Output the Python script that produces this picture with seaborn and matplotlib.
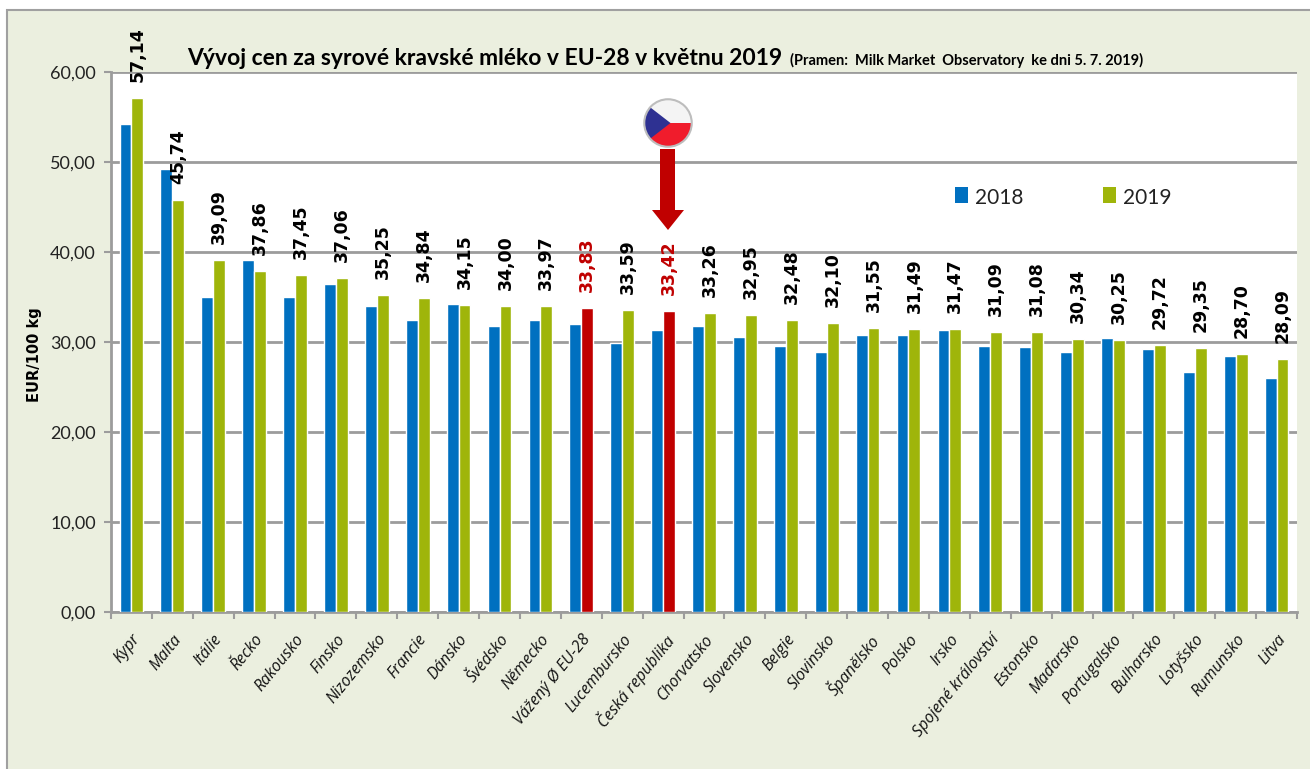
import matplotlib
matplotlib.use('Agg')
import matplotlib.pyplot as plt
from matplotlib.patches import Rectangle, Circle, Polygon
import pandas as pd
import seaborn as sns

# ── data ─────────────────────────────────────────────
countries = ['Kypr', 'Malta', 'Itálie', 'Řecko', 'Rakousko', 'Finsko', 'Nizozemsko',
             'Francie', 'Dánsko', 'Švédsko', 'Německo', 'Vážený Ø EU-28', 'Lucembursko',
             'Česká republika', 'Chorvatsko', 'Slovensko', 'Belgie', 'Slovinsko',
             'Španělsko', 'Polsko', 'Irsko', 'Spojené království', 'Estonsko',
             'Maďarsko', 'Portugalsko', 'Bulharsko', 'Lotyšsko', 'Rumunsko', 'Litva']
vals_2018 = [54.2, 49.2, 35.0, 39.1, 35.0, 36.4, 34.0, 32.5, 34.2, 31.8, 32.5, 32.0, 29.9,
             31.3, 31.8, 30.6, 29.6, 28.9, 30.8, 30.8, 31.3, 29.6, 29.4, 28.9, 30.4, 29.2,
             26.7, 28.4, 26.0]
vals_2019 = [57.14, 45.74, 39.09, 37.86, 37.45, 37.06, 35.25, 34.84, 34.15, 34.00, 33.97,
             33.83, 33.59, 33.42, 33.26, 32.95, 32.48, 32.10, 31.55, 31.49, 31.47, 31.09,
             31.08, 30.34, 30.25, 29.72, 29.35, 28.70, 28.09]
highlight = ['Vážený Ø EU-28', 'Česká republika']
y_ticks = [0, 10, 20, 30, 40, 50, 60]

BLUE = '#0070C0'
GREEN = '#9FB50A'
RED = '#C00000'
GRID = '#9C9C9C'
PANEL = '#EBEFDF'
NARROW = 'Lato'

W, H = 1310, 769

sns.set_theme(style='white')
fig = plt.figure(figsize=(W / 100, H / 100), dpi=100, facecolor='white')


def fx(x):
    return x / W


def fy(y):
    return 1 - y / H


# panel behind the chart
fig.add_artist(Rectangle((fx(7), -0.01), fx(1340), fy(10) + 0.01, transform=fig.transFigure,
                         facecolor=PANEL, edgecolor='#A0A0A0', linewidth=1.5, zorder=-1))

ax = fig.add_axes([fx(111), fy(612), fx(1297 - 111), fy(72) - fy(612)])

df = pd.DataFrame({
    'country': countries * 2,
    'year': ['2018'] * len(countries) + ['2019'] * len(countries),
    'value': vals_2018 + vals_2019,
})
sns.barplot(data=df, x='country', y='value', hue='year', order=countries,
            palette={'2018': BLUE, '2019': GREEN}, width=0.58, gap=0, saturation=1,
            ax=ax, zorder=3, legend=False)

# red bars and value labels
for bar, name, val in zip(ax.containers[1], countries, vals_2019):
    hot = name in highlight
    if hot:
        bar.set_facecolor(RED)
    ax.annotate(f'{val:.2f}'.replace('.', ','),
                (bar.get_x() + bar.get_width() / 2, val),
                xytext=(0, 11.5), textcoords='offset points', rotation=90,
                ha='center', va='bottom', fontsize=12.5, fontweight='bold',
                family='DejaVu Sans', color=RED if hot else 'black',
                annotation_clip=False, zorder=6)

ax.set_xlim(-0.5, len(countries) - 0.5)
ax.set_ylim(0, 60)
ax.set_xlabel('')
ax.set_ylabel('')
ax.set_facecolor('white')

ax.set_yticks(y_ticks)
ax.set_yticklabels([f'{v},00' for v in y_ticks], family=NARROW, fontsize=13, color='#222222')
ax.yaxis.grid(True, color=GRID, linewidth=2)
ax.set_axisbelow(True)
ax.tick_params(axis='y', length=5, width=1.5, color=GRID, pad=6, left=True)

# ticks sit between categories, labels at the centres
ax.set_xticks(range(len(countries)))
ax.set_xticklabels(countries, rotation=51, ha='right', rotation_mode='anchor',
                   family='Open Sans', style='italic', fontsize=11.5, color='#111111')
ax.set_xticks([i - 0.5 for i in range(len(countries) + 1)], minor=True)
ax.tick_params(axis='x', which='major', length=0, pad=14)
ax.tick_params(axis='x', which='minor', length=5, width=1.5, color=GRID, bottom=True)

sns.despine(ax=ax, top=True, right=True)
for side in ['left', 'bottom']:
    ax.spines[side].set_color(GRID)
    ax.spines[side].set_linewidth(2)

fig.text(fx(35), fy(355), 'EUR/100 kg', rotation=90, ha='center', va='center',
         fontsize=10.5, fontweight='bold', family='DejaVu Sans', color='black')

# title
fig.text(fx(187), fy(65), 'Vývoj cen za syrové kravské mléko v EU-28 v květnu 2019',
         fontsize=16.5, fontweight='bold', family=NARROW, color='black', va='baseline')
fig.text(fx(790), fy(65), '(Pramen:  Milk Market  Observatory  ke dni 5. 7. 2019)',
         fontsize=10.5, fontweight='bold', family=NARROW, color='black', va='baseline')

# legend
for x0, label, col in [(955, '2018', BLUE), (1103, '2019', GREEN)]:
    fig.add_artist(Rectangle((fx(x0), fy(203)), fx(13), fy(187) - fy(203),
                             transform=fig.transFigure, facecolor=col, edgecolor='none'))
    fig.text(fx(x0 + 20), fy(198), label, fontsize=15, family=NARROW, color='#222222',
             va='center')

# arrow pointing at the Czech bar
arrow = [(660, 149), (675, 149), (675, 210), (684, 210), (668, 230), (652, 210), (660, 210)]
fig.add_artist(Polygon([(fx(a), fy(b)) for a, b in arrow], closed=True,
                       transform=fig.transFigure, facecolor=RED, edgecolor='none', zorder=7))

# flag badge
flag = fig.add_axes([fx(643), fy(148), fx(50), fy(98) - fy(148)], zorder=8)
flag.set_xlim(-1, 1)
flag.set_ylim(-1, 1)
flag.axis('off')
clip = Circle((0, 0), 0.95, transform=flag.transData)
parts = [Rectangle((-1, 0), 2, 1, facecolor='#F4F4F4', edgecolor='none'),
         Rectangle((-1, -1), 2, 1, facecolor='#F01C2C', edgecolor='none'),
         Polygon([(-1, 0.85), (0.1, 0), (-1, -0.85)], closed=True, facecolor='#2E3192', edgecolor='none')]
for p in parts:
    flag.add_patch(p)
    p.set_clip_path(clip)
flag.add_patch(Circle((0, 0), 0.95, facecolor='none', edgecolor='#BDBDBD', linewidth=1.5))

fig.savefig('out.png', dpi=100)
